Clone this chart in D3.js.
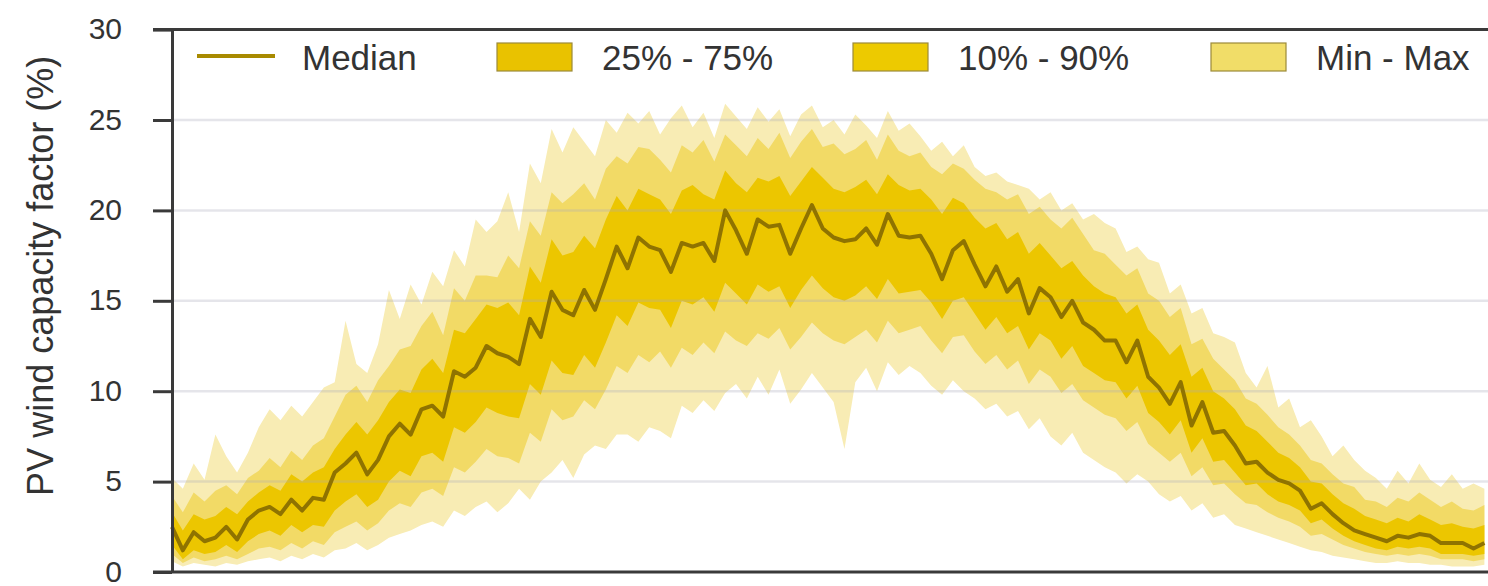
<!DOCTYPE html>
<html>
<head>
<meta charset="utf-8">
<script src="https://cdn.jsdelivr.net/npm/d3@7"></script>
<style>
  body { margin: 0; background: #fff; }
  svg { display: block; font-family: 'Liberation Sans', Arial, Helvetica, sans-serif; }
</style>
</head>
<body>
<svg id="chart" width="1488" height="586"></svg>
<script>
// day of year, one sample every 3 days
const days = d3.range(1, 366, 3)

const median = [2.5,1.2,2.2,1.7,1.9,2.5,1.8,2.9,3.4,3.6, 3.2,4.0,3.4,4.1,4.0,5.5,6.0,6.6,5.4,6.2,
  7.5,8.2,7.6,9.0,9.2,8.6,11.1,10.8,11.3,12.5, 12.1,11.9,11.5,14.0,13.0,15.5,14.5,14.2,15.6,14.5,
  16.2,18.0,16.8,18.5,18.0,17.8,16.6,18.2,18.0,18.2, 17.2,20.0,18.9,17.6,19.5,19.1,19.2,17.6,19.0,20.3,
  19.0,18.5,18.3,18.4,19.0,18.1,19.8,18.6,18.5,18.6, 17.6,16.2,17.8,18.3,17.0,15.8,16.9,15.5,16.2,14.3,
  15.7,15.2,14.1,15.0,13.8,13.4,12.8,12.8,11.6,12.8, 10.8,10.2,9.3,10.5,8.1,9.4,7.7,7.8,7.0,6.0,
  6.1,5.5,5.1,4.9,4.5,3.5,3.8,3.2,2.7,2.3, 2.1,1.9,1.7,2.0,1.9,2.1,2.0,1.6,1.6,1.6, 1.3,1.6]

const p25 = [1.5,0.7,1.2,1.0,1.1,1.5,1.1,1.7,2.1,2.3, 2.0,2.6,2.2,2.6,2.5,3.4,3.9,4.3,3.6,4.0,
  5.0,5.6,5.3,6.4,6.6,6.1,8.0,7.7,8.3,9.1, 8.8,8.6,8.5,10.4,9.8,11.7,11.0,10.9,12.0,11.3,
  12.7,14.2,13.6,14.9,14.6,14.5,13.5,15.0,14.8,15.2, 14.4,16.0,15.4,14.8,15.9,15.5,15.8,14.6,15.6,16.4,
  15.7,15.2,15.0,15.3,15.8,15.1,16.2,15.4,15.5,15.6, 14.9,14.0,15.0,15.2,14.3,13.4,14.1,13.2,13.6,12.3,
  13.2,12.8,11.8,12.5,11.4,11.0,10.6,10.5,9.6,10.3, 8.8,8.3,7.6,8.4,6.6,7.4,6.1,6.2,5.5,4.8,
  4.9,4.3,3.9,3.7,3.4,2.7,2.9,2.4,2.0,1.7, 1.5,1.3,1.2,1.4,1.3,1.4,1.3,1.0,1.0,1.0, 0.9,1.0]

const p75 = [3.3,2.3,3.2,2.9,3.1,3.6,3.2,3.9,4.4,4.8, 4.5,5.4,5.0,5.5,5.8,6.8,7.6,8.3,7.6,8.4,
  9.4,10.1,9.9,11.2,11.8,11.0,13.4,13.2,14.0,14.8, 14.6,14.9,14.2,16.9,16.0,18.4,17.5,17.7,18.6,17.9,
  19.5,20.8,20.0,21.2,20.9,20.6,19.8,21.1,21.4,20.9, 20.6,22.2,21.5,21.0,21.8,21.6,21.9,20.8,21.6,22.4,
  21.8,21.2,21.0,21.3,21.7,20.9,22.0,21.4,21.1,21.2, 20.6,19.8,20.7,20.4,19.6,19.0,19.3,18.4,18.8,17.6,
  18.2,17.5,16.8,17.2,16.4,15.8,15.4,15.2,14.3,14.8, 13.4,12.8,12.0,12.6,10.8,11.3,10.0,9.6,9.0,8.1,
  7.8,7.2,6.6,6.3,5.8,5.0,4.9,4.3,3.8,3.5, 3.1,2.9,2.7,3.0,2.8,3.2,2.9,2.6,2.7,2.5, 2.4,2.6]

const p10 = [1.0,0.5,0.8,0.6,0.7,0.9,0.7,1.0,1.3,1.4, 1.2,1.6,1.3,1.7,1.5,2.2,2.5,2.8,2.3,2.7,
  3.4,3.8,3.6,4.4,4.6,4.2,5.8,5.5,6.1,6.8, 6.4,6.3,6.0,7.7,7.2,9.0,8.4,8.6,9.5,9.0,
  10.1,11.4,11.0,12.0,11.6,12.2,11.3,12.4,12.0,12.7, 12.1,13.3,12.8,12.5,13.2,12.9,13.5,12.3,13.0,13.8,
  13.2,12.8,12.6,13.0,13.4,12.7,13.9,13.2,13.4,13.6, 12.8,12.1,13.0,13.1,12.2,11.5,12.0,11.2,11.7,10.4,
  11.2,10.8,9.9,10.4,9.5,9.1,8.7,8.5,7.8,8.3, 7.1,6.6,6.1,6.6,5.3,5.8,4.8,4.9,4.3,3.8,
  3.7,3.3,3.0,2.8,2.5,2.0,2.1,1.8,1.5,1.3, 1.1,1.0,0.9,1.0,0.9,1.0,0.9,0.7,0.7,0.7, 0.6,0.7]

const p90 = [4.2,3.3,4.4,3.9,4.5,4.8,4.3,5.2,5.6,6.3, 5.8,6.7,6.2,7.0,7.4,8.6,9.8,10.3,9.4,10.6,
  11.4,12.3,12.5,13.6,14.4,13.1,15.7,15.0,16.4,16.4, 16.3,17.5,16.8,19.4,18.6,21.0,20.4,20.9,21.5,20.6,
  22.3,23.0,22.6,23.5,23.4,22.8,22.1,23.6,23.2,23.9, 22.7,24.2,23.6,23.0,24.0,23.4,24.3,22.9,23.8,24.5,
  23.5,23.7,23.1,23.4,23.9,22.8,24.2,23.3,23.0,23.2, 22.4,22.0,22.6,22.3,21.7,21.2,21.0,20.6,20.9,19.8,
  20.2,19.5,19.0,19.6,18.7,17.8,17.6,17.0,16.4,16.8, 15.4,15.0,14.1,14.6,12.6,12.9,11.8,11.2,10.6,9.6,
  9.3,8.7,8.0,7.6,7.0,6.2,6.0,5.4,4.9,4.7, 4.0,3.9,3.6,4.1,3.9,4.4,4.0,3.6,3.9,3.5, 3.4,3.7]

const minVals = [0.6,0.3,0.5,0.4,0.3,0.5,0.4,0.6,0.7,0.8, 0.6,0.9,0.7,1.0,0.8,1.2,1.3,1.6,1.2,1.5,
  1.9,2.1,2.3,2.6,2.8,2.5,3.4,3.1,3.6,3.9, 3.3,3.8,4.6,4.0,5.0,5.5,6.2,5.2,6.5,7.0,
  6.8,7.6,7.6,7.2,8.0,7.8,7.4,9.2,8.8,9.5, 8.9,9.9,10.4,9.6,10.8,9.8,11.2,9.3,10.1,11.0,
  10.2,9.4,6.8,10.5,11.3,10.0,11.6,10.9,11.4,11.0, 10.3,9.8,10.6,10.0,9.6,9.0,9.3,8.6,8.9,7.9,
  8.5,7.5,7.0,7.7,6.6,6.2,5.8,5.5,4.9,5.4, 5.0,4.3,3.9,4.2,3.4,3.8,3.0,3.2,2.6,2.4,
  2.2,2.0,1.8,1.6,1.4,1.2,1.1,0.9,0.8,0.7, 0.6,0.5,0.5,0.6,0.5,0.5,0.4,0.4,0.3,0.3, 0.3,0.4]

const maxVals = [5.2,4.6,6.0,5.1,7.6,6.4,5.5,6.6,8.0,9.0, 8.4,9.2,8.6,9.4,10.2,10.5,13.9,11.5,11.0,12.6,
  15.6,14.0,15.9,14.8,16.6,15.8,17.8,16.9,19.5,18.8, 19.4,21.0,18.8,22.6,21.5,24.5,23.2,24.6,23.8,23.0,
  25.0,24.3,25.4,24.8,25.5,24.2,25.1,25.8,24.6,25.4, 24.0,25.9,25.2,24.5,25.7,24.9,25.6,24.1,25.3,25.8,
  24.6,25.0,24.2,25.3,24.7,24.0,25.5,24.4,24.8,24.1, 23.3,23.8,23.0,23.6,22.4,21.9,22.1,21.6,21.4,21.2,
  20.6,21.0,20.0,20.4,19.5,19.8,19.3,19.0,17.7,18.0, 17.3,17.1,15.4,15.9,14.3,14.6,13.2,13.0,12.7,11.0,
  10.2,11.4,9.1,9.6,8.0,8.4,7.5,6.4,7.0,6.2, 5.6,5.2,4.6,5.6,4.9,6.0,5.1,4.7,5.4,4.6, 4.9,4.6]

const yTicks = [0, 5, 10, 15, 20, 25, 30]
const legendLabels = ['Median', '25% - 75%', '10% - 90%', 'Min - Max']

const colors = {
  median: '#8f7300',
  iqr: '#ecc600',
  p1090: '#f2da66',
  minmax: '#f8ecb4'
}
const legendFills = [null, '#e9c200', '#edca00', '#f1dd68']
const legendX = [197, 497, 853, 1211]

const width = 1488
const height = 586
const margin = { top: 29.6, right: 0, bottom: 14, left: 172 }

const svg = d3.select('#chart')

const x = d3.scaleLinear()
  .domain([1, 365])
  .range([margin.left, width - margin.right])

const y = d3.scaleLinear()
  .domain([0, 30])
  .range([height - margin.bottom, margin.top])

const band = (lo, hi) => d3.area()
  .x((d, i) => x(days[i]))
  .y0((d, i) => y(lo[i]))
  .y1((d, i) => y(hi[i]))

const bands = [
  [minVals, maxVals, colors.minmax],
  [p10, p90, colors.p1090],
  [p25, p75, colors.iqr]
]

bands.forEach(([lo, hi, c]) => {
  svg.append('path')
    .datum(days)
    .attr('fill', c)
    .attr('d', band(lo, hi))
})

// grid lines sit over the bands, faint
svg.append('g')
  .selectAll('line')
  .data(yTicks.filter(t => t > 0 && t < 30))
  .enter().append('line')
  .attr('x1', margin.left)
  .attr('x2', width)
  .attr('y1', d => y(d))
  .attr('y2', d => y(d))
  .attr('stroke', 'rgba(170,170,185,0.3)')
  .attr('stroke-width', 2.5)

const line = d3.line()
  .x((d, i) => x(days[i]))
  .y(d => y(d))

svg.append('path')
  .datum(median)
  .attr('fill', 'none')
  .attr('stroke', colors.median)
  .attr('stroke-width', 4)
  .attr('stroke-linejoin', 'round')
  .attr('d', line)

// frame: top and bottom rules
const tickLen = 19
;[0, 30].forEach(v => {
  svg.append('line')
    .attr('x1', margin.left - tickLen)
    .attr('x2', width)
    .attr('y1', y(v))
    .attr('y2', y(v))
    .attr('stroke', '#3a3a3a')
    .attr('stroke-width', 3)
})

const yAxis = svg.append('g')
  .attr('transform', `translate(${margin.left},0)`)
  .call(d3.axisLeft(y).tickValues(yTicks).tickSize(tickLen).tickSizeOuter(0).tickPadding(31))

yAxis.select('.domain').attr('stroke', '#3a3a3a').attr('stroke-width', 3)
yAxis.selectAll('.tick line').attr('stroke', '#3a3a3a').attr('stroke-width', 3)
yAxis.selectAll('.tick text')
  .attr('fill', '#333')
  .attr('dy', '0.3em')
  .style('font-size', '30px')
  .style('font-family', "'Liberation Sans', Arial, Helvetica, sans-serif")

svg.append('text')
  .attr('transform', `translate(53, ${(y(0) + y(30)) / 2 - 25}) rotate(-90)`)
  .attr('text-anchor', 'middle')
  .attr('fill', '#333')
  .style('font-size', '36px')
  .text('PV wind capacity factor (%)')

// legend
const legend = svg.append('g')
legendLabels.forEach((label, i) => {
  const lx = legendX[i]
  if (i === 0) {
    legend.append('line')
      .attr('x1', lx).attr('x2', lx + 78)
      .attr('y1', 56).attr('y2', 56)
      .attr('stroke', '#a88a00')
      .attr('stroke-width', 4)
  } else {
    legend.append('rect')
      .attr('x', lx).attr('y', 43)
      .attr('width', 75).attr('height', 28)
      .attr('fill', legendFills[i])
      .attr('stroke', '#9c8a3a')
      .attr('stroke-width', 1.2)
  }
  legend.append('text')
    .attr('x', lx + 105)
    .attr('y', 70)
    .attr('fill', '#333')
    .style('font-size', '35px')
    .text(label)
})
</script>
</body>
</html>
